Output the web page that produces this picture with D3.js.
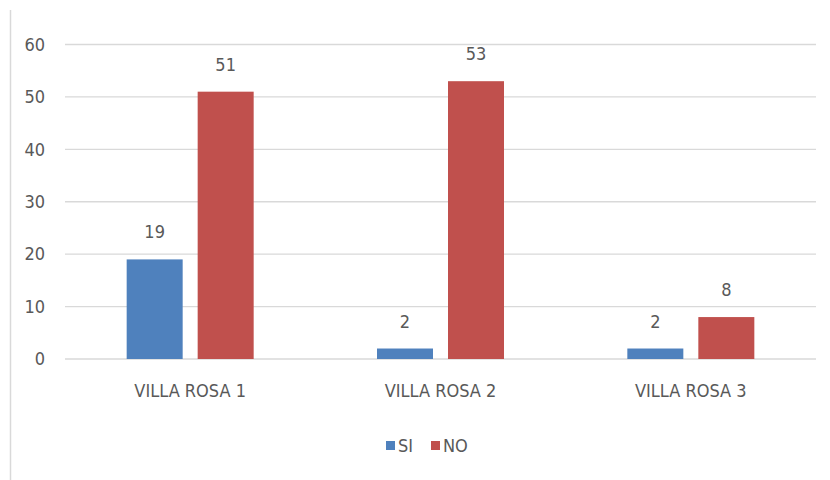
<!DOCTYPE html>
<meta charset="utf-8">
<script src="https://d3js.org/d3.v7.min.js"></script>
<style>
  body { margin: 0; background: #fff; }
  text { font-family: "DejaVu Sans Condensed", "Liberation Sans Narrow", sans-serif; fill: #595959; }
</style>
<div id="chart"></div>
<script>
    // data
    const categories = ["VILLA ROSA 1", "VILLA ROSA 2", "VILLA ROSA 3"];
    const seriesNames = ["SI", "NO"];
    const siValues = [19, 2, 2];
    const noValues = [51, 53, 8];
    const yTicks = [0, 10, 20, 30, 40, 50, 60];
    const colors = ["#4F81BD", "#C0504D"];

    const W = 830, H = 480;
    const margin = {top: 44.5, right: 14, bottom: 121, left: 65};
    const width = W - margin.left - margin.right,
          height = H - margin.top - margin.bottom;

    const svg = d3.select("#chart").append("svg")
        .attr("width", W).attr("height", H);

    // left frame line
    svg.append("line")
      .attr("x1", 10.5).attr("x2", 10.5)
      .attr("y1", 10).attr("y2", H)
      .attr("stroke", "#d9d9d9").attr("stroke-width", 1.5);

    const g = svg.append("g")
      .attr("transform", `translate(${margin.left},${margin.top})`);

    const x = d3.scaleBand().domain(categories).range([0, width]);
    // two bars of ~56px with a ~15px gap
    const x1 = d3.scaleBand().domain(seriesNames).range([0, 127]).paddingInner(15 / 71);
    const y = d3.scaleLinear().domain([0, 60]).range([height, 0]);

    // gridlines
    g.append("g").selectAll("line").data(yTicks).join("line")
      .attr("x1", 0).attr("x2", width)
      .attr("y1", d => y(d)).attr("y2", d => y(d))
      .attr("stroke", "#d9d9d9").attr("stroke-width", 1.3);

    // y labels
    g.append("g").selectAll("text").data(yTicks).join("text")
      .attr("x", -20).attr("y", d => y(d)).attr("dy", "0.35em")
      .attr("text-anchor", "end").attr("font-size", "18px")
      .text(d => d);

    const rows = categories.map((c, i) => ({cat: c, vals: [siValues[i], noValues[i]]}));
    const off = (x.bandwidth() - 127) / 2;

    const grp = g.append("g").selectAll("g").data(rows).join("g")
      .attr("transform", d => `translate(${x(d.cat) + off},0)`);

    grp.selectAll("rect").data(d => d.vals.map((v, j) => ({s: seriesNames[j], v, j})))
      .join("rect")
      .attr("x", d => x1(d.s)).attr("width", x1.bandwidth())
      .attr("y", d => y(d.v)).attr("height", d => height - y(d.v))
      .attr("fill", d => colors[d.j]);

    grp.selectAll("text").data(d => d.vals.map((v, j) => ({s: seriesNames[j], v, j})))
      .join("text")
      .attr("x", d => x1(d.s) + x1.bandwidth() / 2)
      .attr("y", d => y(d.v) - 21)
      .attr("text-anchor", "middle").attr("font-size", "18px")
      .text(d => d.v);

    // x labels
    g.append("g").selectAll("text").data(categories).join("text")
      .attr("x", d => x(d) + x.bandwidth() / 2)
      .attr("y", height + 38)
      .attr("text-anchor", "middle").attr("font-size", "18px")
      .text(d => d);

    // legend
    const leg = svg.append("g").attr("transform", "translate(386,441)");
    const items = [{n: "SI", x: 0}, {n: "NO", x: 45}];
    items.forEach((it, i) => {
      leg.append("rect").attr("x", it.x).attr("y", 0).attr("width", 9).attr("height", 9)
        .attr("fill", colors[i]);
      leg.append("text").attr("x", it.x + 12).attr("y", 5).attr("dy", "0.35em")
        .attr("font-size", "18px").text(it.n);
    });
</script>
